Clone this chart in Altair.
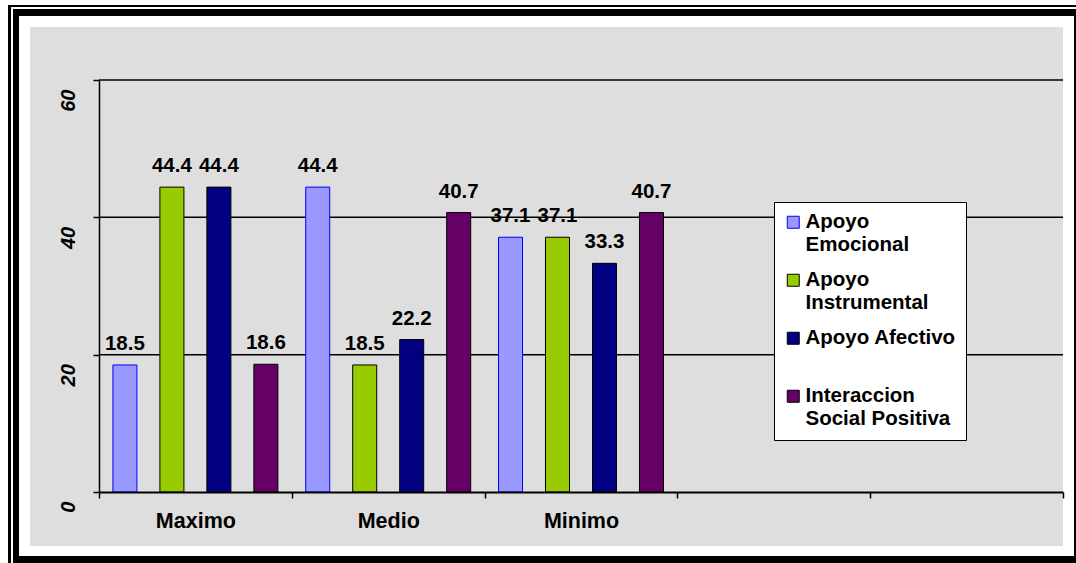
import altair as alt
import pandas as pd

# Categorías del eje X (las dos últimas quedan vacías, como en la hoja original)
categorias = ["Maximo", "Medio", "Minimo"]
categorias_eje = categorias + [" ", "  "]

# Series (dimensiones del apoyo social)
series = ["Apoyo Emocional", "Apoyo Instrumental", "Apoyo Afectivo",
          "Interaccion Social Positiva"]

# Porcentajes por categoría, en el orden de las series
valores_maximo = [18.5, 44.4, 44.4, 18.6]
valores_medio = [44.4, 18.5, 22.2, 40.7]
valores_minimo = [37.1, 37.1, 33.3, 40.7]

# Marcas del eje Y y líneas de división
ticks_y = [0, 20, 40, 60]
lineas_division = [20, 40, 60]

# Colores de relleno y de borde de cada serie
rellenos = ["#9999FF", "#99CC00", "#000080", "#660066"]
bordes = ["#0000FF", "#000000", "#000000", "#000000"]

FUENTE = "Liberation Sans"
NBSP = "\u00a0"

filas = []
for cat, vals in zip(categorias, [valores_maximo, valores_medio, valores_minimo]):
    for serie, v in zip(series, vals):
        filas.append({"categoria": cat, "serie": serie, "valor": v})
datos = pd.DataFrame(filas)
division = pd.DataFrame({"valor": lineas_division})

W, H = 964, 412
PAD = {"left": 99, "top": 80, "right": 13, "bottom": 71}

eje_y = alt.Axis(values=ticks_y, title=None, grid=False, domainColor="black",
                 domainWidth=1.5, tickColor="black", tickSize=6, tickWidth=1.5,
                 labelAngle=270, labelAlign="right", labelBaseline="middle",
                 labelOffset=9, labelPadding=25, labelFont=FUENTE,
                 labelFontSize=20, labelFontWeight="bold",
                 labelFontStyle="italic", labelColor="black", zindex=1)
y_enc = alt.Y("valor:Q", scale=alt.Scale(domain=[0, 60], nice=False), axis=eje_y)

eje_x = alt.Axis(title=None, labelAngle=0, tickBand="extent", grid=False,
                 domainColor="black", domainWidth=2, tickColor="black",
                 tickSize=6, tickWidth=1.5, labelPadding=12, labelFont=FUENTE,
                 labelFontSize=21.5, labelFontWeight="bold", labelColor="black",
                 zindex=1)
x_enc = alt.X("categoria:N", scale=alt.Scale(domain=categorias_eje,
              paddingInner=0, paddingOuter=0), axis=eje_x)
off_enc = alt.XOffset("serie:N", scale=alt.Scale(domain=series,
                      paddingInner=0.489, paddingOuter=0.296))

etiquetas_leyenda = (
    f"datum.label == 'Apoyo Emocional' ? ['{NBSP}Apoyo', 'Emocional'] : "
    f"datum.label == 'Apoyo Instrumental' ? ['{NBSP}Apoyo', 'Instrumental'] : "
    "datum.label == 'Apoyo Afectivo' ? ['Apoyo Afectivo', ''] : "
    "['Interaccion', 'Social Positiva']"
)

leyenda = alt.Legend(
    title=None, orient="none", legendX=675, legendY=122, padding=10,
    fillColor="white", strokeColor="black", symbolType="square",
    symbolSize=144, symbolStrokeWidth=1, symbolOffset=-1, labelFont=FUENTE,
    labelFontSize=20.5, labelFontWeight="bold", labelColor="black",
    labelBaseline="middle", labelOffset=2, rowPadding=14, labelLimit=0,
    labelExpr=etiquetas_leyenda)

barras = alt.Chart(datos).mark_bar(strokeWidth=1).encode(
    x=x_enc, xOffset=off_enc, y=y_enc,
    fill=alt.Fill("serie:N", scale=alt.Scale(domain=series, range=rellenos),
                  legend=leyenda),
    stroke=alt.Stroke("serie:N", scale=alt.Scale(domain=series, range=bordes),
                      legend=leyenda),
)

etiquetas = alt.Chart(datos).mark_text(
    font=FUENTE, fontSize=20.5, fontWeight="bold", color="black",
    baseline="alphabetic", dy=-15
).encode(x=x_enc, xOffset=off_enc, y=y_enc, text=alt.Text("valor:Q", format=".1f"))

grilla = alt.Chart(division).mark_rule(color="black", strokeWidth=1.5).encode(y=y_enc)

# Marco del gráfico y fondo gris (coordenadas relativas al área de trazado)
def rect(x1, x2, y1, y2, color):
    return alt.Chart(alt.Data(values=[{}])).mark_rect(color=color).encode(
        x=alt.value(x1), x2=alt.value(x2), y=alt.value(y1), y2=alt.value(y2))

marco = [
    rect(-69, 964, -53, 466, "#dedede"),   # fondo
    rect(-91, 977, -75, -73, "black"),     # línea superior fina
    rect(-86, 977, -71, -64, "black"),     # línea superior gruesa
    rect(-91, -88, -75, 483, "black"),     # línea izquierda fina
    rect(-86, -80, -71, 483, "black"),     # línea izquierda gruesa
    rect(975, 977, -71, 483, "black"),     # línea derecha
    rect(-86, 977, 476, 483, "black"),     # línea inferior
]

chart = alt.layer(*marco, grilla, barras, etiquetas).properties(
    width=W, height=H, padding=PAD, autosize="none", background="white"
).configure_view(stroke=None)

chart.save("out.html", embed_options={"renderer": "svg", "actions": False})
